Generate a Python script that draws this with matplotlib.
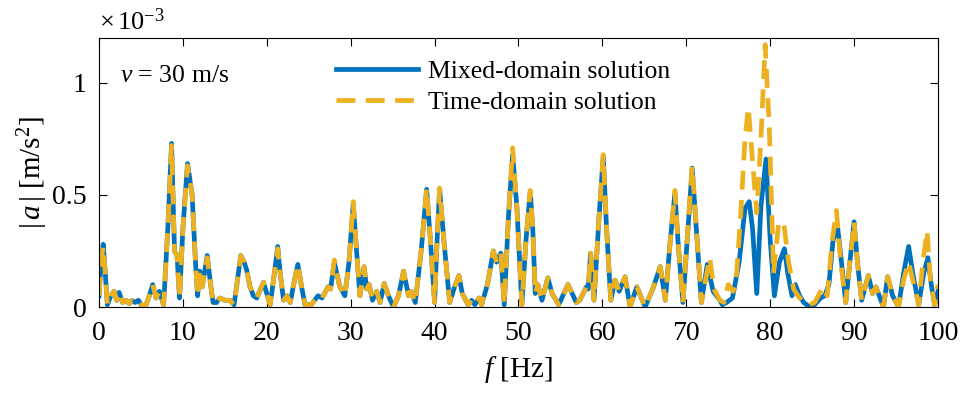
import matplotlib
matplotlib.use("Agg")
import matplotlib.pyplot as plt

plt.rcParams["font.family"] = ["Liberation Serif", "DejaVu Serif"]
plt.rcParams["mathtext.fontset"] = "custom"
plt.rcParams["mathtext.rm"] = "Liberation Serif"
plt.rcParams["mathtext.it"] = "Liberation Serif:italic"

# --- data (|a| in units of 1e-3 m/s^2) ---
f_mixed = [
    0.0, 0.25, 0.5, 0.75, 1.0, 1.4, 1.8, 2.1, 2.4, 2.8, 3.2, 3.6, 3.9, 4.3, 4.7,
    5.1, 5.6, 6.0, 6.4, 6.8, 7.2, 7.7, 8.2, 8.65, 9.0, 9.3, 9.6, 10.0, 10.55,
    10.9, 11.1, 11.5, 11.75, 12.0, 12.3, 12.9, 13.3, 13.6, 14.0, 14.4, 15.0,
    15.6, 16.1, 16.5, 16.9, 17.3, 17.6, 18.0, 18.4, 18.8, 19.6, 20.0, 20.4,
    20.9, 21.3, 21.6, 22.0, 22.4, 22.8, 23.2, 23.7, 24.1, 24.55, 25.3, 26.1,
    26.6, 27.3, 27.6, 28.05, 28.4, 28.7, 29.3, 29.8, 30.3, 30.7, 31.1, 31.6,
    31.9, 32.2, 32.6, 33.1, 33.5, 34.0, 34.5, 35.1, 35.7, 36.3, 36.9, 37.2,
    37.7, 38.4, 39.05, 39.5, 40.0, 40.3, 40.6, 41.1, 41.8, 42.3, 42.9, 43.3,
    44.0, 44.4, 44.8, 45.3, 45.6, 46.3, 47.0, 47.4, 47.9, 48.3, 48.8, 49.3,
    49.8, 50.4, 50.9, 51.4, 51.7, 52.0, 52.3, 52.8, 53.5, 54.0, 54.8, 55.4,
    55.9, 56.4, 56.9, 57.3, 58.1, 58.3, 58.6, 59.0, 59.6, 60.1, 60.5, 61.0,
    61.5, 62.0, 62.7, 63.3, 64.1, 65.1, 66.0, 66.9, 67.5, 68.1, 68.65, 69.0,
    69.6, 70.2, 70.7, 71.2, 71.8, 72.5, 73.2, 74.0, 74.3, 74.8, 75.5, 76.3,
    77.0, 77.5, 77.9, 78.4, 78.9, 79.5, 80.0, 80.5, 81.1, 81.7, 82.1, 82.6,
    83.0, 83.5, 84.0, 84.7, 85.3, 86.0, 86.5, 87.0, 87.5, 88.0, 88.5, 89.0,
    89.5, 90.0, 90.4, 90.9, 91.7, 92.2, 92.6, 93.5, 94.0, 94.6, 95.3, 95.9,
    96.5, 97.0, 97.7, 98.3, 98.8, 99.2, 99.6, 100.0,
]
a_mixed = [
    0.05, 0.2, 0.28, 0.15, 0.01, 0.05, 0.07, 0.03, 0.065, 0.02, 0.03, 0.015, 0.03, 0.02, 0.03,
    0.005, 0.01, 0.05, 0.1, 0.04, 0.07, 0.01, 0.35, 0.73, 0.25, 0.23, 0.04, 0.35, 0.64,
    0.55, 0.5, 0.2, 0.05, 0.16, 0.09, 0.23, 0.1, 0.02, 0.02, 0.04, 0.03,
    0.03, 0.01, 0.12, 0.23, 0.2, 0.165, 0.09, 0.05, 0.04, 0.11, 0.06, 0.01,
    0.15, 0.27, 0.15, 0.03, 0.05, 0.02, 0.1, 0.19, 0.1, 0.01, 0.01, 0.05,
    0.04, 0.09, 0.08, 0.2, 0.14, 0.09, 0.05, 0.2, 0.46, 0.25, 0.05, 0.18,
    0.08, 0.1, 0.03, 0.07, 0.02, 0.105, 0.05, 0.0, 0.05, 0.16, 0.05, 0.07,
    0.02, 0.25, 0.525, 0.3, 0.02, 0.3, 0.525, 0.3, 0.02, 0.08, 0.14, 0.06,
    0.01, 0.03, 0.01, 0.04, 0.01, 0.1, 0.25, 0.2, 0.24, 0.01, 0.4, 0.68,
    0.45, 0.01, 0.3, 0.515, 0.35, 0.06, 0.1, 0.03, 0.13, 0.06, 0.01, 0.06,
    0.10, 0.06, 0.02, 0.03, 0.09, 0.08, 0.24, 0.03, 0.4, 0.67, 0.35, 0.03,
    0.12, 0.07, 0.135, 0.0, 0.09, 0.0, 0.08, 0.18, 0.03, 0.3, 0.51, 0.3,
    0.02, 0.35, 0.62, 0.35, 0.02, 0.19, 0.07, 0.03, 0.01, 0.02, 0.04, 0.2,
    0.44, 0.47, 0.35, 0.06, 0.45, 0.66, 0.3, 0.05, 0.2, 0.26, 0.15, 0.05,
    0.1, 0.05, 0.02, 0.0, 0.01, 0.04, 0.05, 0.1, 0.3, 0.37, 0.2, 0.02,
    0.2, 0.38, 0.2, 0.03, 0.14, 0.06, 0.09, 0.0, 0.135, 0.05, 0.0, 0.15,
    0.27, 0.15, 0.01, 0.15, 0.22, 0.1, 0.01, 0.07,
]

f_time = [
    0.0, 0.25, 0.5, 0.75, 1.0, 1.4, 1.8, 2.1, 2.4, 2.8, 3.2, 3.6, 3.9, 4.3, 4.7,
    5.1, 5.6, 6.0, 6.4, 6.8, 7.2, 7.7, 8.2, 8.65, 9.0, 9.3, 9.6, 10.0, 10.55,
    10.9, 11.1, 11.5, 11.75, 12.0, 12.3, 12.9, 13.3, 13.6, 14.0, 14.4, 15.0,
    15.6, 16.1, 16.5, 16.9, 17.3, 17.6, 18.0, 18.4, 18.8, 19.6, 20.0, 20.4,
    20.9, 21.3, 21.6, 22.0, 22.4, 22.8, 23.2, 23.7, 24.1, 24.55, 25.3, 26.1,
    26.6, 27.3, 27.6, 28.05, 28.4, 28.7, 29.3, 29.8, 30.3, 30.7, 31.1, 31.6,
    31.9, 32.2, 32.6, 33.1, 33.5, 34.0, 34.5, 35.1, 35.7, 36.3, 36.9, 37.2,
    37.7, 38.4, 39.05, 39.5, 40.0, 40.3, 40.6, 41.1, 41.8, 42.3, 42.9, 43.3,
    44.0, 44.4, 44.8, 45.3, 45.6, 46.3, 47.0, 47.4, 47.9, 48.3, 48.8, 49.3,
    49.8, 50.4, 50.9, 51.4, 51.7, 52.0, 52.3, 52.8, 53.5, 54.0, 54.8, 55.4,
    55.9, 56.4, 56.9, 57.3, 58.1, 58.3, 58.6, 59.0, 59.6, 60.1, 60.5, 61.0,
    61.5, 62.0, 62.7, 63.3, 64.1, 65.1, 66.0, 66.9, 67.5, 68.1, 68.65, 69.0,
    69.6, 70.2, 70.7, 71.2, 71.8, 72.3, 72.8, 73.3, 74.0, 74.5, 75.0, 75.6,
    76.0, 76.5, 77.0, 77.4, 77.9, 78.4, 78.9, 79.4, 79.9, 80.4, 81.0, 81.6,
    82.2, 82.8, 83.3, 84.0, 84.7, 85.3, 86.3, 86.8, 87.4, 87.9, 88.4, 89.0,
    89.5, 90.0, 90.4, 90.9, 91.7, 92.2, 92.6, 93.5, 94.0, 94.6, 95.3, 95.9,
    96.5, 97.0, 97.7, 98.2, 98.7, 99.1, 99.6, 100.0,
]
a_time = [
    0.05, 0.2, 0.27, 0.15, 0.01, 0.05, 0.07, 0.03, 0.065, 0.02, 0.03, 0.015, 0.03, 0.02, 0.03,
    0.005, 0.01, 0.05, 0.1, 0.04, 0.07, 0.01, 0.35, 0.72, 0.25, 0.23, 0.04, 0.35, 0.63,
    0.55, 0.5, 0.2, 0.05, 0.16, 0.09, 0.22, 0.1, 0.02, 0.02, 0.04, 0.03,
    0.03, 0.01, 0.12, 0.23, 0.2, 0.165, 0.09, 0.05, 0.04, 0.11, 0.06, 0.01,
    0.15, 0.26, 0.15, 0.03, 0.05, 0.02, 0.1, 0.19, 0.1, 0.01, 0.01, 0.05,
    0.04, 0.09, 0.08, 0.21, 0.14, 0.09, 0.05, 0.2, 0.47, 0.25, 0.05, 0.18,
    0.08, 0.1, 0.03, 0.07, 0.02, 0.105, 0.05, 0.0, 0.05, 0.16, 0.05, 0.07,
    0.02, 0.25, 0.53, 0.3, 0.02, 0.3, 0.53, 0.3, 0.02, 0.08, 0.14, 0.06,
    0.01, 0.03, 0.01, 0.04, 0.01, 0.1, 0.25, 0.2, 0.24, 0.01, 0.4, 0.71,
    0.45, 0.01, 0.3, 0.52, 0.35, 0.06, 0.1, 0.03, 0.13, 0.06, 0.01, 0.06,
    0.10, 0.06, 0.02, 0.03, 0.09, 0.08, 0.24, 0.03, 0.4, 0.68, 0.35, 0.03,
    0.12, 0.07, 0.135, 0.0, 0.09, 0.0, 0.08, 0.18, 0.03, 0.3, 0.52, 0.3,
    0.02, 0.35, 0.63, 0.35, 0.02, 0.12, 0.22, 0.08, 0.03, 0.02, 0.10, 0.07,
    0.15, 0.42, 0.75, 0.89, 0.65, 0.42, 0.75, 1.17, 0.8, 0.15, 0.37, 0.38,
    0.2, 0.08, 0.05, 0.02, 0.01, 0.02, 0.09, 0.05, 0.3, 0.43, 0.2, 0.02,
    0.2, 0.38, 0.2, 0.03, 0.14, 0.06, 0.09, 0.0, 0.135, 0.05, 0.0, 0.12,
    0.2, 0.12, 0.01, 0.2, 0.34, 0.12, 0.01, 0.1,
]

fig = plt.figure(figsize=(9.64, 3.97), dpi=100)
ax = fig.add_axes([0.1027, 0.2267, 0.8703, 0.6776])

ax.plot(f_mixed, a_mixed, color="#0072BD", lw=3.4, solid_joinstyle="round",
        label="Mixed-domain solution")
ax.plot(f_time, a_time, color="#EDB120", lw=3.4, linestyle=(0, (4.0, 2.2)),
        label="Time-domain solution")

ax.set_xlim(0, 100)
ax.set_ylim(0, 1.2)
ax.set_xticks(range(0, 101, 10))
ax.set_yticks([0, 0.5, 1])
ax.set_yticklabels(["0", "0.5", "1"])
ax.tick_params(direction="in", top=True, right=True, length=6, width=0.8,
               labelsize=20)
ax.tick_params(axis="x", pad=10)
ax.tick_params(axis="y", pad=9)
for s in ax.spines.values():
    s.set_linewidth(0.8)

ax.set_xlabel(r"$f$ [Hz]", fontsize=21, labelpad=6)
ax.set_ylabel(r"$|\,a\,|$ [m/s$^2$]", fontsize=21, labelpad=1)

ax.text(0.025, 0.86, r"$v$ = 30 m/s", transform=ax.transAxes, fontsize=18.5,
        va="center", ha="left")
fig.text(0.1027, 0.945, r"$\times\,10^{-3}$", fontsize=19, ha="left", va="center")

ax.legend(loc="upper left", bbox_to_anchor=(0.27, 0.955), frameon=False,
          fontsize=18.5, handlelength=3.2, handletextpad=0.4, labelspacing=0.3,
          borderaxespad=0)

fig.savefig("out.png", dpi=100)
